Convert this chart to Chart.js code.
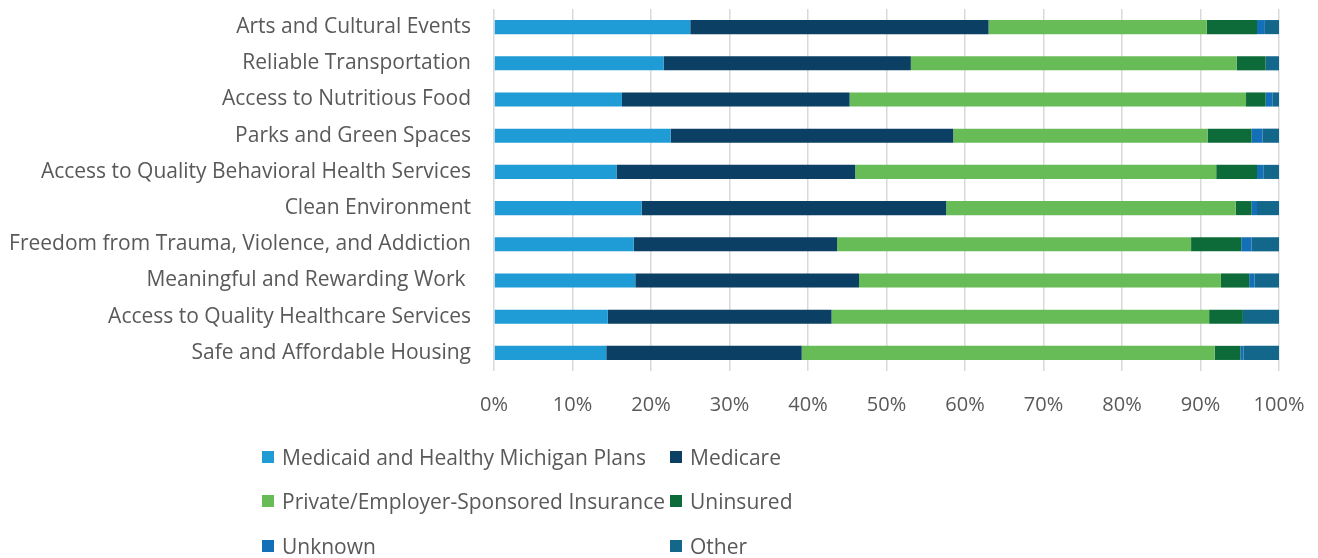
<!DOCTYPE html>
<html>
<head>
<meta charset="utf-8">
<script src="https://cdn.jsdelivr.net/npm/chart.js@4.4.1/dist/chart.umd.min.js"></script>
<style>
  body { margin: 0; background: #fff; }
  #wrap { position: relative; width: 1318px; height: 558px; overflow: hidden; }
  #legend { position: absolute; left: 0; top: 0; width: 1318px; height: 558px; pointer-events: none; }
  .item { position: absolute; display: flex; align-items: center; font-family: "Open Sans", sans-serif; font-size: 21px; color: #595959; white-space: nowrap; transform: translateY(-50%); }
  .box { width: 12px; height: 12px; margin-right: 8px; }
</style>
</head>
<body>
<div id="wrap">
  <canvas id="chart" width="1318" height="558"></canvas>
  <div id="legend"></div>
</div>
<script>
const categories = [
  "Arts and Cultural Events",
  "Reliable Transportation",
  "Access to Nutritious Food",
  "Parks and Green Spaces",
  "Access to Quality Behavioral Health Services",
  "Clean Environment",
  "Freedom from Trauma, Violence, and Addiction",
  "Meaningful and Rewarding Work ",
  "Access to Quality Healthcare Services",
  "Safe and Affordable Housing"
];

// percent shares per category
const medicaid  = [25.0, 21.6, 16.3, 22.5, 15.6, 18.8, 17.8, 18.0, 14.5, 14.3];
const medicare  = [38.0, 31.5, 29.0, 36.0, 30.4, 38.8, 25.9, 28.5, 28.5, 24.9];
const privateIns = [27.8, 41.5, 50.5, 32.4, 46.0, 36.9, 45.1, 46.1, 48.1, 52.6];
const uninsured = [6.4, 3.7, 2.5, 5.6, 5.2, 2.0, 6.4, 3.6, 4.3, 3.3];
const unknown   = [1.0, 0.0, 0.9, 1.4, 0.8, 0.7, 1.3, 0.7, 0.0, 0.4];
const other     = [1.8, 1.7, 0.8, 2.1, 2.0, 2.8, 3.5, 3.1, 4.6, 4.5];

const xTicks = [0, 10, 20, 30, 40, 50, 60, 70, 80, 90, 100];

const series = [
  { label: "Medicaid and Healthy Michigan Plans", data: medicaid, color: "#1f9cd6" },
  { label: "Medicare", data: medicare, color: "#0b3f63" },
  { label: "Private/Employer-Sponsored Insurance", data: privateIns, color: "#68bc58" },
  { label: "Uninsured", data: uninsured, color: "#0c6b38" },
  { label: "Unknown", data: unknown, color: "#136fb8" },
  { label: "Other", data: other, color: "#12678a" }
];

const font = "'Open Sans', sans-serif";
const textColor = "#595959";

new Chart(document.getElementById("chart"), {
  type: "bar",
  data: {
    labels: categories,
    datasets: series.map((s) => ({
      label: s.label,
      data: s.data,
      backgroundColor: s.color,
      borderWidth: 0,
      barPercentage: 0.39,
      categoryPercentage: 1
    }))
  },
  options: {
    indexAxis: "y",
    responsive: false,
    animation: false,
    layout: { padding: { top: 9, right: 39, bottom: 145, left: 0 } },
    plugins: {
      legend: { display: false },
      tooltip: { enabled: false }
    },
    scales: {
      x: {
        stacked: true,
        min: 0,
        max: 100,
        afterBuildTicks: (scale) => {
          scale.ticks = xTicks.map((v) => ({ value: v }));
        },
        afterFit: (scale) => {
          scale.height = 42;
          scale.paddingLeft = 0;
          scale.paddingRight = 0;
        },
        grid: { color: "#d9d9d9", lineWidth: 1.5, drawTicks: false },
        border: { display: false },
        ticks: {
          padding: 22,
          color: textColor,
          font: { family: font, size: 20 },
          callback: (v) => v + "%"
        }
      },
      y: {
        stacked: true,
        afterFit: (scale) => {
          scale.width = 494;
          scale.paddingTop = 0;
          scale.paddingBottom = 0;
        },
        grid: { display: false, drawTicks: false },
        border: { display: false },
        ticks: {
          padding: 23,
          color: textColor,
          font: { family: font, size: 21 }
        }
      }
    }
  }
});

// legend laid out in two columns like the original
const legend = document.getElementById("legend");
const colX = [262, 670];
const rowY = [457, 501, 546];
series.forEach((s, i) => {
  const item = document.createElement("div");
  item.className = "item";
  item.style.left = colX[i % 2] + "px";
  item.style.top = rowY[Math.floor(i / 2)] + "px";
  const box = document.createElement("span");
  box.className = "box";
  box.style.background = s.color;
  item.appendChild(box);
  item.appendChild(document.createTextNode(s.label));
  legend.appendChild(item);
});
</script>
</body>
</html>
